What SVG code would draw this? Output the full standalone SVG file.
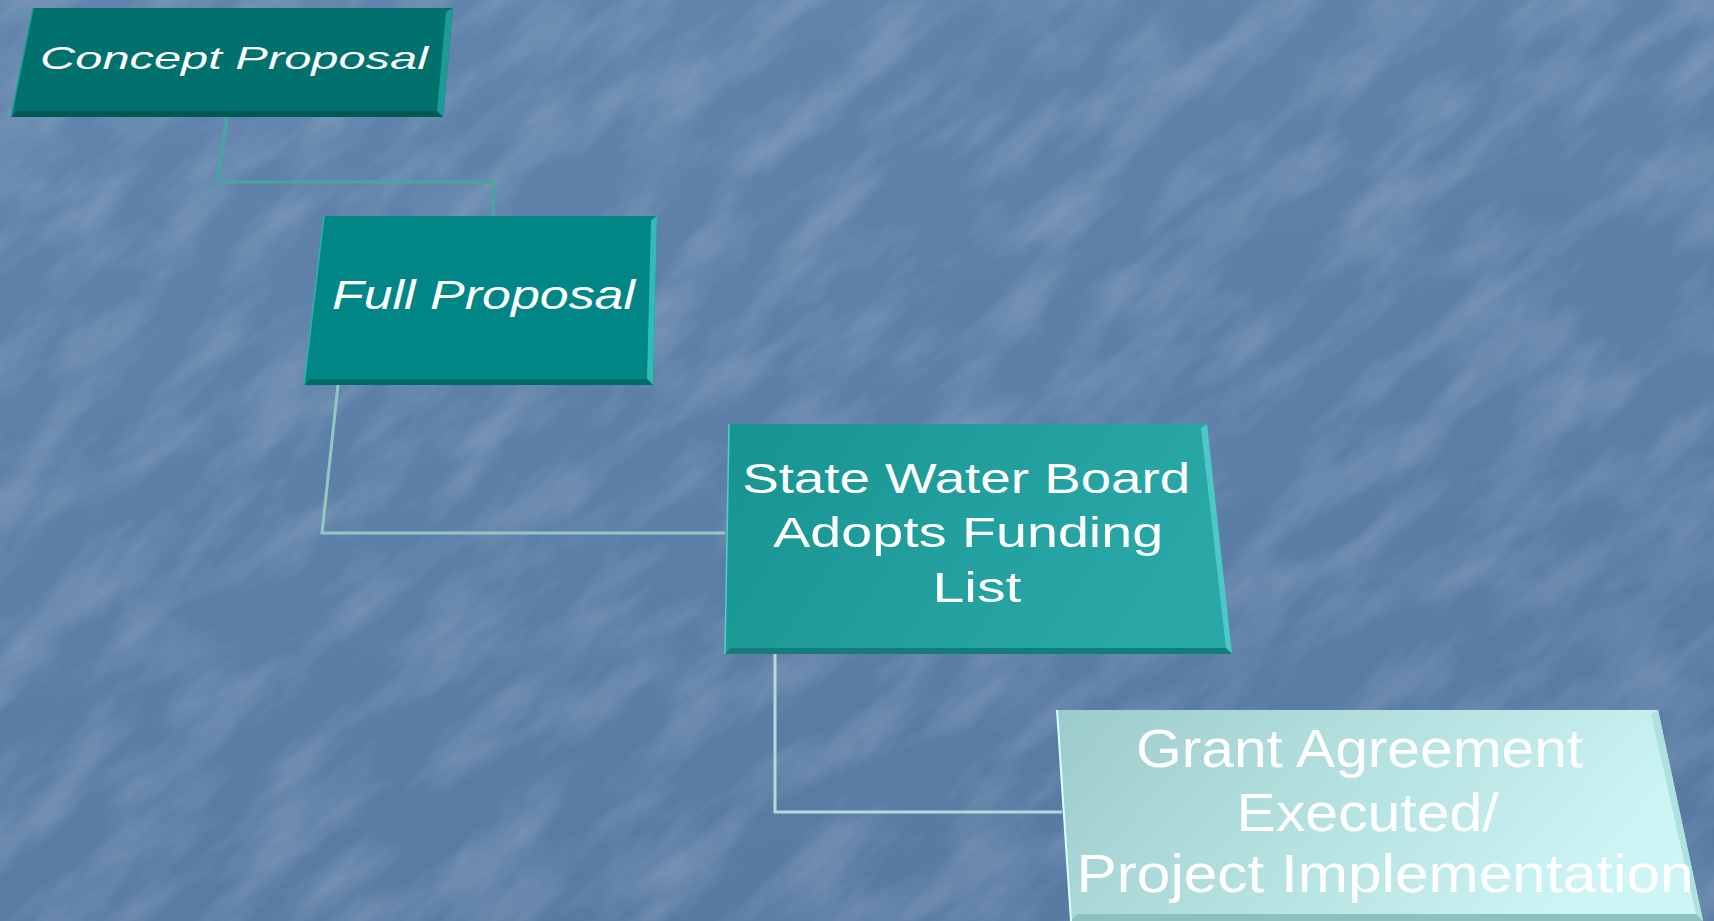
<svg xmlns="http://www.w3.org/2000/svg" width="1714" height="921" viewBox="0 0 1714 921">
  <style>
    .t { font-family: "Liberation Sans", Arial, sans-serif; fill: #ffffff; }
    .it { font-style: italic; }
    .conn { fill: none; stroke-width: 3; stroke-linejoin: miter; }
  </style>
  <defs>
    <linearGradient id="bg" x1="0" y1="0" x2="0.3" y2="1">
      <stop offset="0" stop-color="#6184ac"/>
      <stop offset="1" stop-color="#587aa3"/>
    </linearGradient>
    <filter id="tex" x="0" y="0" width="100%" height="100%">
      <feTurbulence type="fractalNoise" baseFrequency="0.008 0.022" numOctaves="5" seed="11"/>
      <feColorMatrix type="matrix" values="0 0 0 0 1  0 0 0 0 1  0 0 0 0 1  1.8 0 0 0 -0.72"/>
    </filter>
    <linearGradient id="g3" x1="0" y1="0" x2="1" y2="0.3">
      <stop offset="0" stop-color="#179491"/>
      <stop offset="1" stop-color="#2aa8a8"/>
    </linearGradient>
    <linearGradient id="g4" x1="0" y1="0" x2="1" y2="0.3">
      <stop offset="0" stop-color="#9ccbcb"/>
      <stop offset="1" stop-color="#cdf5f5"/>
    </linearGradient>
  </defs>

  <!-- background -->
  <rect x="0" y="0" width="1714" height="921" fill="url(#bg)"/>
  <g transform="rotate(-40 857 460)" opacity="0.2">
    <rect x="-600" y="-600" width="2900" height="2100" filter="url(#tex)"/>
  </g>

  <!-- connectors -->
  <g id="connectors">
    <polyline class="conn" stroke="#44a8a0" points="227,117 217,182 494,182 493,216"/>
    <polyline class="conn" stroke="#92c8c2" points="338,385 322,533 725,533"/>
    <polyline class="conn" stroke="#b6dad8" points="775,654 775,812 1062,812"/>
  </g>

  <!-- node 1 -->
  <g id="node-concept">
    <polygon points="33,8 453,8 443,117 11,117" fill="#00716d"/>
    <polygon points="446,12 453,8 443,117 437,111" fill="#1d9c96"/>
    <polygon points="11,117 443,117 437,111 17,111" fill="#005955"/>
    <line x1="33" y1="8" x2="11" y2="117" stroke="#1aa09a" stroke-width="1.5"/>
    <text class="t it" x="40" y="69" font-size="32" textLength="388" lengthAdjust="spacingAndGlyphs">Concept Proposal</text>
  </g>

  <!-- node 2 -->
  <g id="node-full">
    <polygon points="324,216 657,216 653,385 304,385" fill="#008785"/>
    <polygon points="651,220 657,216 653,385 647,379" fill="#30bcb6"/>
    <polygon points="304,385 653,385 647,379 310,379" fill="#006b68"/>
    <line x1="324" y1="216" x2="304" y2="385" stroke="#2ab4ae" stroke-width="1.5"/>
    <text class="t it" x="332" y="309" font-size="40" textLength="303" lengthAdjust="spacingAndGlyphs">Full Proposal</text>
  </g>

  <!-- node 3 -->
  <g id="node-board">
    <polygon points="729,424 1207,424 1232,654 725,654" fill="url(#g3)"/>
    <polygon points="1201,428 1207,424 1232,654 1226,648" fill="#4cc8c6"/>
    <polygon points="725,654 1232,654 1226,648 731,648" fill="#137d7a"/>
    <line x1="729" y1="424" x2="725" y2="654" stroke="#4fd0cc" stroke-width="1.5"/>
    <text class="t" font-size="42" text-anchor="middle">
      <tspan x="972" y="493" textLength="448" lengthAdjust="spacingAndGlyphs">State Water Board</tspan>
      <tspan x="974" y="547" textLength="390" lengthAdjust="spacingAndGlyphs">Adopts Funding</tspan>
      <tspan x="977" y="602" textLength="89" lengthAdjust="spacingAndGlyphs">List</tspan>
    </text>
  </g>

  <!-- node 4 -->
  <g id="node-grant">
    <polygon points="1057,710 1658,710 1703,921 1071,921" fill="url(#g4)"/>
    <polygon points="1651,714 1658,710 1703,921 1696,914" fill="#aee2e0"/>
    <polygon points="1071,921 1703,921 1696,914 1077,914" fill="#8ec0c0"/>
    <line x1="1057" y1="710" x2="1071" y2="921" stroke="#d8ffff" stroke-width="2"/>
    <text class="t" font-size="53" text-anchor="middle">
      <tspan x="1367" y="767" textLength="447" lengthAdjust="spacingAndGlyphs">Grant Agreement</tspan>
      <tspan x="1375" y="831" textLength="262" lengthAdjust="spacingAndGlyphs">Executed/</tspan>
      <tspan x="1385" y="892" textLength="617" lengthAdjust="spacingAndGlyphs">Project Implementation</tspan>
    </text>
  </g>
</svg>
